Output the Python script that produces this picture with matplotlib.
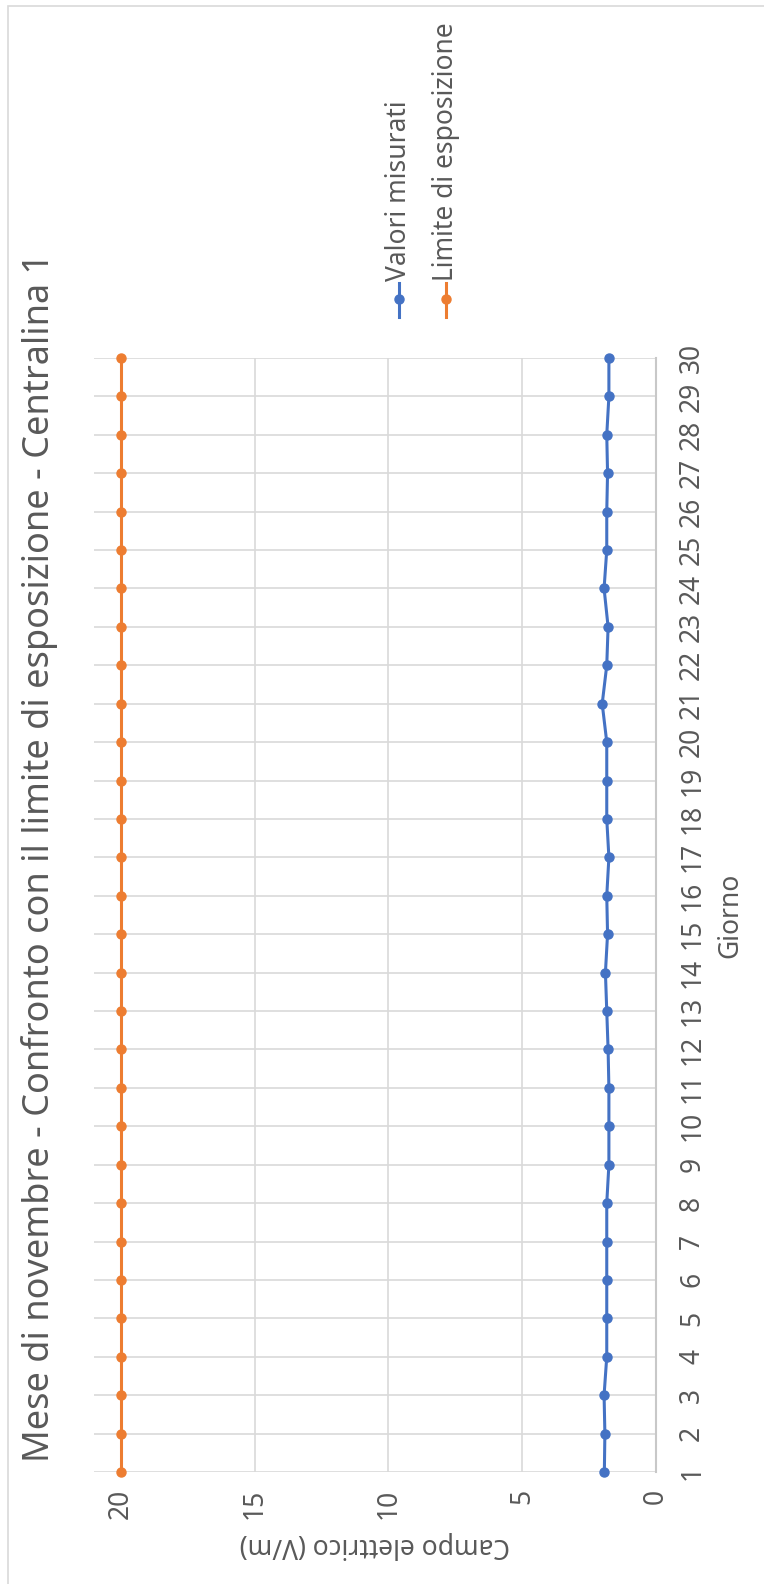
import numpy as np
import matplotlib.pyplot as plt
from matplotlib.lines import Line2D
from matplotlib.patches import Rectangle

plt.rcParams['font.family'] = ['Noto Sans', 'DejaVu Sans']

# data
giorni = list(range(1, 31))
valori_misurati = [1.93, 1.91, 1.94, 1.84, 1.84, 1.84, 1.84, 1.84, 1.76, 1.76,
                   1.76, 1.79, 1.84, 1.89, 1.81, 1.84, 1.76, 1.84, 1.84, 1.84,
                   2.01, 1.84, 1.79, 1.94, 1.84, 1.84, 1.81, 1.84, 1.76, 1.76]
limite_esposizione = [20] * 30
value_ticks = [0, 5, 10, 15, 20]

blue = '#4472C4'
orange = '#ED7D31'
txt = '#595959'
grid = '#D9D9D9'

W, H = 764, 1584
fig = plt.figure(figsize=(W / 100, H / 100), dpi=100)

# chart is drawn rotated: days go upward, values leftward
ax = fig.add_axes([94 / W, 1 - 1472 / H, (656 - 94) / W, (1472 - 358) / H])
ax.plot(valori_misurati, giorni, color=blue, lw=2.2, marker='o', ms=6.5, zorder=3, clip_on=False)
ax.plot(limite_esposizione, giorni, color=orange, lw=2.2, marker='o', ms=6.5, zorder=3, clip_on=False)

ax.set_xlim(21.0, 0)
ax.set_ylim(1, 30)
ax.set_xticks(value_ticks)
ax.set_yticks(giorni)
ax.grid(True, color=grid, lw=1.2, zorder=0)
for s in ['left', 'top', 'bottom']:
    ax.spines[s].set_visible(False)
ax.spines['right'].set_color('#C8C8C8')
ax.spines['right'].set_linewidth(1.5)
ax.yaxis.tick_right()
ax.tick_params(axis='x', length=0, pad=12, labelsize=19, labelcolor=txt, labelrotation=90)
ax.tick_params(axis='y', length=0, pad=16, labelsize=19, labelcolor=txt, labelrotation=90)
for lab in ax.get_yticklabels():
    lab.set_va('center')

fig.text(40 / W, 1 - 857 / H, 'Mese di novembre - Confronto con il limite di esposizione - Centralina 1',
         rotation=90, ha='center', va='center', fontsize=26, color=txt)
fig.text(730 / W, 1 - 915 / H, 'Giorno', rotation=90, ha='center', va='center',
         fontsize=19, color=txt)
fig.text(375 / W, 1 - 1545 / H, 'Campo elettrico (V/m)', rotation=180, ha='center', va='center',
         fontsize=19, color=txt)

# legend, rotated by hand
for x, col, label in [(399, blue, 'Valori misurati'), (446, orange, 'Limite di esposizione')]:
    fig.add_artist(Line2D([x / W, x / W], [1 - 317 / H, 1 - 283 / H], color=col, lw=2.2,
                          transform=fig.transFigure))
    fig.add_artist(Line2D([x / W], [1 - 299 / H], color=col, marker='o', ms=6.5,
                          transform=fig.transFigure))
    fig.text(x / W, 1 - 281 / H, label, rotation=90, ha='center', va='bottom',
             fontsize=19, color=txt)

fig.add_artist(Rectangle((8 / W, -0.1), 1.2, 1 - 6 / H + 0.1, fill=False, ec='#D9D9D9', lw=1.2,
                         transform=fig.transFigure))

fig.savefig('out.png', dpi=100, facecolor='white')
